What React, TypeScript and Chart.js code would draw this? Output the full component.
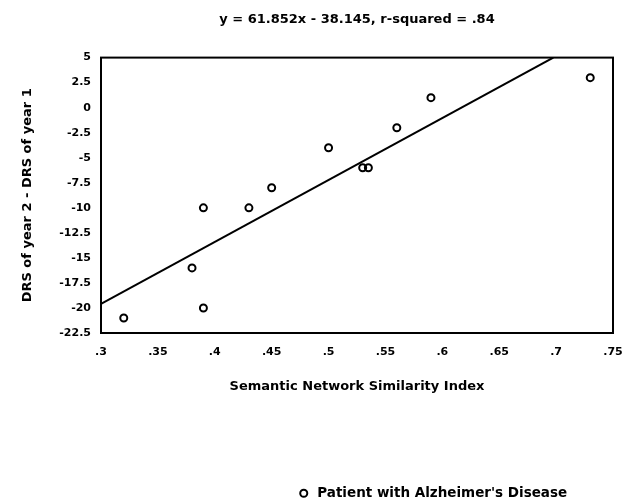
import { useEffect, useRef } from 'react';
import { Chart, registerables } from 'chart.js';

Chart.register(...registerables);

const chartTitle = 'y = 61.852x - 38.145, r-squared = .84';
const xAxisTitle = 'Semantic Network Similarity Index';
const yAxisTitle = 'DRS of year 2 - DRS of year 1';
const seriesLabel = "Patient with Alzheimer's Disease";

// Semantic Network Similarity Index of each patient
const similarityIndex = [0.32, 0.38, 0.39, 0.39, 0.43, 0.45, 0.5, 0.53, 0.535, 0.56, 0.59, 0.73];
// DRS of year 2 - DRS of year 1
const drsChange = [-21, -16, -10, -20, -10, -8, -4, -6, -6, -2, 1, 3];

// regression line given in the title
const fitSlope = 61.852;
const fitIntercept = -38.145;

const xTickValues = [0.3, 0.35, 0.4, 0.45, 0.5, 0.55, 0.6, 0.65, 0.7, 0.75];
const xTickLabels = ['.3', '.35', '.4', '.45', '.5', '.55', '.6', '.65', '.7', '.75'];
const yTickValues = [-22.5, -20, -17.5, -15, -12.5, -10, -7.5, -5, -2.5, 0, 2.5, 5];
const yTickLabels = ['-22.5', '-20', '-17.5', '-15', '-12.5', '-10', '-7.5', '-5', '-2.5', '0', '2.5', '5'];

const FONT = 'DejaVu Sans';
const W = 629;
const H = 503;
const PLOT_BOTTOM = 333;
const LEGEND_LEFT = 289;
const LEGEND_DROP = 7;

const framePlugin = {
  id: 'frame',
  afterDatasetsDraw(chart: any) {
    const { ctx, chartArea } = chart;
    ctx.save();
    ctx.strokeStyle = '#000';
    ctx.lineWidth = 2;
    ctx.strokeRect(chartArea.left, chartArea.top, chartArea.right - chartArea.left, chartArea.bottom - chartArea.top);
    ctx.restore();
  },
};

const legendPlacement = {
  id: 'legendPlacement',
  afterLayout(chart: any) {
    const l = chart.legend;
    if (!l) return;
    const w = l.right - l.left;
    l.left = LEGEND_LEFT;
    l.right = LEGEND_LEFT + w;
    l.top += LEGEND_DROP;
    l.bottom += LEGEND_DROP;
  },
};

export default function App() {
  const ref = useRef<HTMLCanvasElement>(null);

  useEffect(() => {
    const canvas = ref.current;
    if (!canvas) return;
    const xMin = xTickValues[0];
    const yMax = yTickValues[yTickValues.length - 1];
    const fitLine = [
      { x: xMin, y: fitSlope * xMin + fitIntercept },
      { x: (yMax - fitIntercept) / fitSlope, y: yMax },
    ];
    const chart = new Chart(canvas, {
      type: 'scatter',
      data: {
        datasets: [
          {
            label: seriesLabel,
            data: similarityIndex.map((x, i) => ({ x, y: drsChange[i] })),
            pointStyle: 'circle',
            pointRadius: 3.5,
            pointHoverRadius: 3.5,
            borderWidth: 2,
            borderColor: '#000',
            backgroundColor: 'rgba(0,0,0,0)',
            showLine: false,
          },
          {
            label: 'fit',
            data: fitLine,
            showLine: true,
            borderColor: '#000',
            borderWidth: 2,
            pointRadius: 0,
            fill: false,
          } as any,
        ],
      },
      options: {
        responsive: false,
        animation: false,
        layout: { padding: { right: 16 } },
        plugins: {
          tooltip: { enabled: false },
          title: {
            display: true,
            text: chartTitle,
            fullSize: false,
            color: '#000',
            font: { family: FONT, size: 13, weight: 'bold' },
            padding: { top: 12, bottom: 30 },
          },
          legend: {
            display: true,
            position: 'bottom',
            align: 'start',
            labels: {
              filter: (item: any) => item.datasetIndex === 0,
              usePointStyle: true,
              pointStyle: 'circle',
              boxWidth: 13.5,
              boxHeight: 5,
              padding: 8,
              color: '#000',
              font: { family: FONT, size: 13.5, weight: 'bold' },
            },
          },
        },
        scales: {
          x: {
            type: 'linear',
            min: xTickValues[0],
            max: xTickValues[xTickValues.length - 1],
            afterBuildTicks: (s: any) => {
              s.ticks = xTickValues.map((v) => ({ value: v }));
            },
            afterFit: (s: any) => {
              const lh = s.chart.legend ? s.chart.legend.height : 31;
              s.height = H - PLOT_BOTTOM - lh;
              s.paddingLeft = 0;
              s.paddingRight = 0;
            },
            grid: { display: false, drawTicks: false },
            border: { display: true, color: '#000', width: 2 },
            ticks: {
              padding: 13,
              color: '#000',
              font: { family: FONT, size: 11, weight: 'bold' },
              maxRotation: 0,
              autoSkip: false,
              callback: (_v: any, i: number) => xTickLabels[i] ?? '',
            },
            title: {
              display: true,
              text: xAxisTitle,
              color: '#000',
              font: { family: FONT, size: 13, weight: 'bold' },
              padding: { top: 0, bottom: 77 },
            },
          },
          y: {
            type: 'linear',
            min: yTickValues[0],
            max: yTickValues[yTickValues.length - 1],
            afterBuildTicks: (s: any) => {
              s.ticks = yTickValues.map((v) => ({ value: v }));
            },
            afterFit: (s: any) => {
              s.width = 101;
            },
            grid: { display: false, drawTicks: false },
            border: { display: true, color: '#000', width: 2 },
            ticks: {
              padding: 10,
              color: '#000',
              font: { family: FONT, size: 11, weight: 'bold' },
              autoSkip: false,
              callback: (_v: any, i: number) => yTickLabels[i] ?? '',
            },
            title: {
              display: true,
              text: yAxisTitle,
              color: '#000',
              font: { family: FONT, size: 13, weight: 'bold' },
              padding: { top: 20, bottom: 0 },
            },
          },
        },
      },
      plugins: [framePlugin, legendPlacement],
    } as any);
    return () => chart.destroy();
  }, []);

  return (
    <div style={{ position: 'fixed', left: 0, top: 0, width: W, height: H, background: '#fff' }}>
      <canvas ref={ref} width={W} height={H} style={{ display: 'block', width: W, height: H }} />
    </div>
  );
}
